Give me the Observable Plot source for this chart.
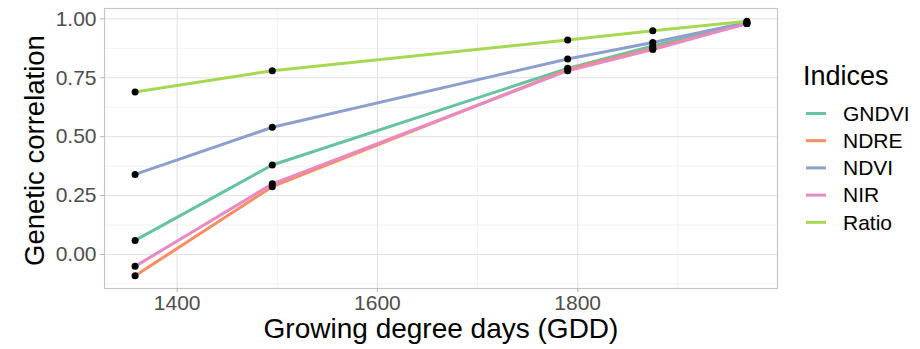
<!DOCTYPE html>
<html>
<head>
<meta charset="utf-8">
<script src="https://cdn.jsdelivr.net/npm/d3@7"></script>
<script src="https://cdn.jsdelivr.net/npm/@observablehq/plot@0.6"></script>
<style>
  html, body { margin: 0; padding: 0; background: #fff; }
  #wrap { position: relative; width: 920px; height: 349px; font-family: "Liberation Sans", Arial, sans-serif; }
  #legend { position: absolute; left: 0; top: 0; }
</style>
</head>
<body>
<div id="wrap"></div>
<script>
// ---- data ----
const gdd = [1358, 1495, 1790, 1875, 1969];
const indices = ["GNDVI", "NDRE", "NDVI", "NIR", "Ratio"];
const colors = ["#66C2A5", "#FC8D62", "#8DA0CB", "#E78AC3", "#A6D854"];
const GNDVI = [0.06, 0.38, 0.79, 0.885, 0.98];
const NDRE  = [-0.09, 0.288, 0.785, 0.875, 0.98];
const NDVI  = [0.34, 0.54, 0.83, 0.90, 0.985];
const NIR   = [-0.05, 0.30, 0.78, 0.87, 0.98];
const Ratio = [0.69, 0.78, 0.91, 0.95, 0.99];
const xTicks = [1400, 1600, 1800];
const xMinor = [1500, 1700, 1900];
const yTicks = [0, 0.25, 0.5, 0.75, 1];
const yMinor = [-0.125, 0.125, 0.375, 0.625, 0.875];
const xLabel = "Growing degree days (GDD)";
const yLabel = "Genetic correlation";
const legendTitle = "Indices";

const seriesValues = {GNDVI, NDRE, NDVI, NIR, Ratio};
const data = indices.flatMap(k => gdd.map((x, i) => ({index: k, gdd: x, r: seriesValues[k][i]})));

// ggplot-like expansion (5%)
const xExt = d3.extent(data, d => d.gdd);
const yExt = d3.extent(data, d => d.r);
const xPad = (xExt[1] - xExt[0]) * 0.05;
const yPad = (yExt[1] - yExt[0]) * 0.05;

const font = "'Liberation Sans', Arial, sans-serif";

const chart = Plot.plot({
  width: 920,
  height: 349,
  marginLeft: 104,
  marginRight: 143,
  marginTop: 8,
  marginBottom: 61,
  style: {fontFamily: font, background: "#fff"},
  x: {domain: [xExt[0] - xPad, xExt[1] + xPad]},
  y: {domain: [yExt[0] - yPad, yExt[1] + yPad]},
  color: {domain: indices, range: colors},
  marks: [
    Plot.ruleX(xMinor, {stroke: "#ededed", strokeWidth: 0.8}),
    Plot.ruleY(yMinor, {stroke: "#ededed", strokeWidth: 0.8}),
    Plot.ruleX(xTicks, {stroke: "#e0e0e0", strokeWidth: 1}),
    Plot.ruleY(yTicks, {stroke: "#e0e0e0", strokeWidth: 1}),
    Plot.frame({stroke: "#c4c4c4", strokeWidth: 1.1}),
    Plot.line(data, {x: "gdd", y: "r", z: "index", stroke: "index", strokeWidth: 3}),
    Plot.dot(data, {x: "gdd", y: "r", fill: "black", r: 3.5}),
    Plot.axisX({ticks: xTicks, tickSize: 4, tickPadding: 3, stroke: "#b3b3b3", fill: "#4d4d4d", fontSize: 21, label: null, tickFormat: d => String(d)}),
    Plot.axisY({ticks: yTicks, tickSize: 4, tickPadding: 4, stroke: "#b3b3b3", fill: "#4d4d4d", fontSize: 21, label: null, tickFormat: d3.format(".2f")}),
    Plot.text([xLabel], {frameAnchor: "bottom", dy: 41, fontSize: 28, lineAnchor: "middle", textAnchor: "middle", fill: "black"}),
    Plot.text([yLabel], {frameAnchor: "left", dx: -69, dy: 2, rotate: -90, fontSize: 27.5, lineAnchor: "middle", textAnchor: "middle", fill: "black"})
  ]
});
document.getElementById("wrap").appendChild(chart);

// legend (real text, placed to the right of the panel)
const leg = d3.select("#wrap").append("svg")
  .attr("id", "legend").attr("width", 920).attr("height", 349)
  .style("pointer-events", "none");
leg.append("text").attr("x", 803).attr("y", 85)
  .attr("font-size", 27).attr("font-family", font).attr("fill", "black").text(legendTitle);
indices.forEach((k, i) => {
  const y = 113.5 + i * 27.2;
  leg.append("line").attr("x1", 806).attr("x2", 826).attr("y1", y).attr("y2", y)
    .attr("stroke", colors[i]).attr("stroke-width", 3);
  leg.append("text").attr("x", 843).attr("y", y).attr("dy", "0.35em")
    .attr("font-size", 21).attr("font-family", font).attr("fill", "black").text(k);
});
</script>
</body>
</html>
